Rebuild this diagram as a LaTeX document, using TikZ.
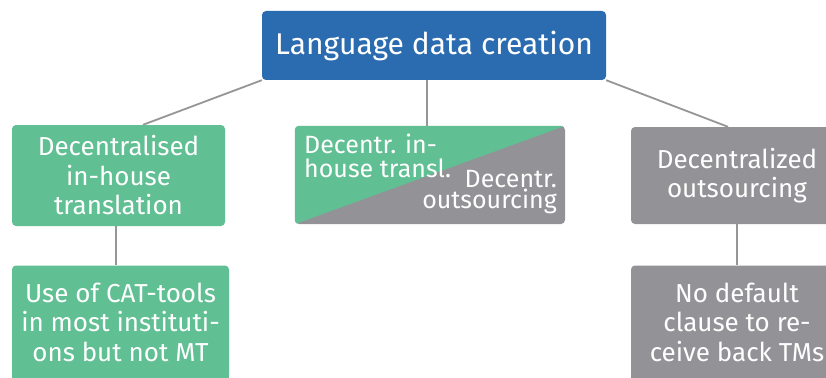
\documentclass[tikz,border=0pt]{standalone}
\usepackage{fontspec}
\setmainfont{Fira Sans}
\usetikzlibrary{calc,backgrounds}
\definecolor{cblue}{RGB}{43,108,177}
\definecolor{cgreen}{RGB}{97,191,148}
\definecolor{cgray}{RGB}{147,147,151}
\definecolor{cline}{RGB}{150,150,150}
\begin{document}
\begin{tikzpicture}[x=1pt,y=-1pt,
  box/.style={rounded corners=4pt, inner sep=0pt, align=center, text=white,
              font=\fontsize{26}{29.5}\selectfont},
  gbox/.style={box, fill=cgreen},
  graybox/.style={box, fill=cgray},
  midtxt/.style={inner sep=0pt, text=white, font=\fontsize{25}{24}\selectfont},
  conn/.style={draw=cline, line width=1.8pt}]
\useasboundingbox (0,0) rectangle (826,377);
\clip (0,0) rectangle (826,377);

\node[box, fill=cblue, minimum width=344pt, minimum height=69pt,
      font=\fontsize{30}{34}\selectfont] (top) at (434,45.5) {Language data creation};
\node[gbox, minimum width=213pt, minimum height=101pt] (lt) at (118.5,175.5)
  {Decentralised\\in-house\\translation};
\node[gbox, minimum width=217pt, minimum height=113pt] (lb) at (120.5,322)
  {Use of CAT-tools\\in most instituti-\\ons but not MT};
\node[graybox, minimum width=212pt, minimum height=97pt] (rt) at (737,175.5)
  {Decentralized\\outsourcing};
\node[graybox, minimum width=212pt, minimum height=113pt] (rb) at (737,322)
  {No default\\clause to re-\\ceive back TMs};

\node[graybox, minimum width=270pt, minimum height=98pt] (mid) at (430,175) {};
\begin{scope}
  \clip[rounded corners=4pt] (mid.south west) rectangle (mid.north east);
  \fill[cgreen] (mid.south west) -- (mid.north west) -- (mid.north east) -- cycle;
\end{scope}
\node[midtxt, anchor=base west] (m1) at (304,153) {Decentr. in-};
\node[midtxt, anchor=base west, text height=15pt] (m2) at (304,177) {house transl.};
\node[midtxt, anchor=base east, text depth=0pt] (m3) at (557,187) {Decentr.};
\node[midtxt, anchor=base east, text height=13pt] (m4) at (557,208) {outsourcing};

\begin{scope}[on background layer]
  \fill[white] (0,0) rectangle (826,377);
  % the lower boxes run on past the bottom edge of the picture
  \fill[cgreen] (lb.west) rectangle ([yshift=-20pt]lb.south east);
  \fill[cgray] (rb.west) rectangle ([yshift=-20pt]rb.south east);
  \draw[conn] (top.south west) -- ([xshift=24.5pt]lt.north);
  \draw[conn] (top.south east) -- ([xshift=-9pt]rt.north);
  \draw[conn] ([xshift=-3pt]mid.north) -- ($(mid.north |- top.south)+(-3,0)$);
  \draw[conn] ([xshift=-2.5pt]lt.south) -- ($(lt.south |- lb.north)+(-2.5,0)$);
  \draw[conn] (rt.south) -- (rb.north);
\end{scope}
\end{tikzpicture}
\end{document}
